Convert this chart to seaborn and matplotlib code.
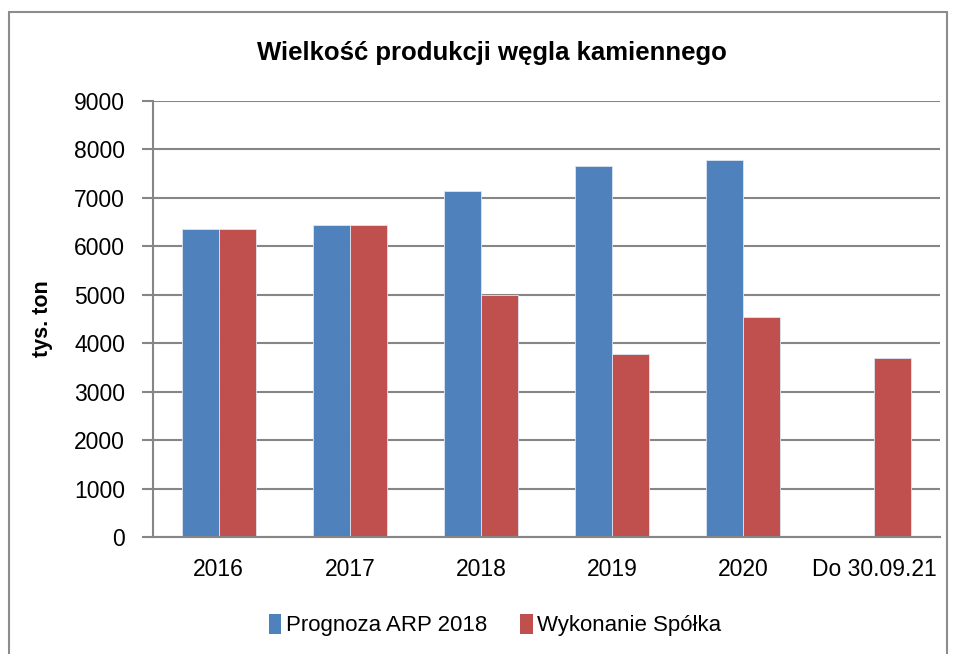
import pandas as pd
import numpy as np
import matplotlib
matplotlib.use("Agg")
import matplotlib.pyplot as plt
import seaborn as sns
from matplotlib.patches import Rectangle, Patch

categories = ["2016", "2017", "2018", "2019", "2020", "Do 30.09.21"]
prognoza = [6360, 6450, 7140, 7650, 7780, np.nan]
wykonanie = [6360, 6450, 5000, 3780, 4540, 3700]
series_names = ["Prognoza ARP 2018", "Wykonanie Spółka"]
colors = ["#4F81BD", "#C0504D"]
yticks = list(range(0, 9001, 1000))

df = pd.DataFrame({
    "rok": categories * 2,
    "wartosc": prognoza + wykonanie,
    "seria": [series_names[0]] * len(categories) + [series_names[1]] * len(categories),
})

sns.set_style("white")
plt.rcParams["font.family"] = ["Liberation Sans", "DejaVu Sans"]
plt.rcParams["text.color"] = "black"
plt.rcParams["xtick.labelcolor"] = "black"
plt.rcParams["ytick.labelcolor"] = "black"
plt.rcParams["axes.labelcolor"] = "black"

fig = plt.figure(figsize=(9.56, 6.54), dpi=100)
ax = fig.add_axes([153 / 956, 1 - 537 / 654, (940 - 153) / 956, (537 - 101) / 654])

sns.barplot(data=df, x="rok", y="wartosc", hue="seria", palette=colors,
            width=0.565, gap=0, saturation=1, ax=ax, legend=False,
            edgecolor="#dce6f2", linewidth=0.6)

ax.set_ylim(0, 9000)
ax.set_xlim(-0.5, len(categories) - 0.5)
ax.set_yticks(yticks)
ax.set_yticklabels([str(v) for v in yticks], fontsize=16.5)
ax.set_xticklabels(categories, fontsize=16.5)
ax.set_xticks(np.arange(-0.5, len(categories), 1), minor=True)
ax.tick_params(axis="x", which="major", length=0, pad=15)
ax.tick_params(axis="x", which="minor", length=8, width=1.5, color="#868686")
ax.tick_params(axis="y", length=8, width=1.5, color="#868686", pad=12, left=True)
ax.yaxis.grid(True, color="#868686", linewidth=1.5)
ax.set_axisbelow(True)
for s in ["top", "right"]:
    ax.spines[s].set_visible(False)
for s in ["left", "bottom"]:
    ax.spines[s].set_color("#868686")
    ax.spines[s].set_linewidth(1.5)

ax.set_xlabel("")
ax.set_ylabel("tys. ton", fontsize=15.5, fontweight="bold", labelpad=15)

fig.text(0.515, 1 - 53 / 654, "Wielkość produkcji węgla kamiennego",
         ha="center", va="center", fontsize=18.5, fontweight="bold")

handles = [Patch(facecolor=c, edgecolor="none") for c in colors]
fig.legend(handles, series_names, loc="center", bbox_to_anchor=(0.518, 1 - 625 / 654),
           ncol=2, frameon=False, fontsize=16, handlelength=0.55, handleheight=1.0,
           handletextpad=0.2, columnspacing=1.5)

fig.add_artist(Rectangle((9 / 956, -0.05), (947 - 9) / 956, 1.05 - 12 / 654,
                         transform=fig.transFigure, fill=False,
                         edgecolor="#8c8c8c", linewidth=1.5))

fig.savefig("out.png", dpi=100)
